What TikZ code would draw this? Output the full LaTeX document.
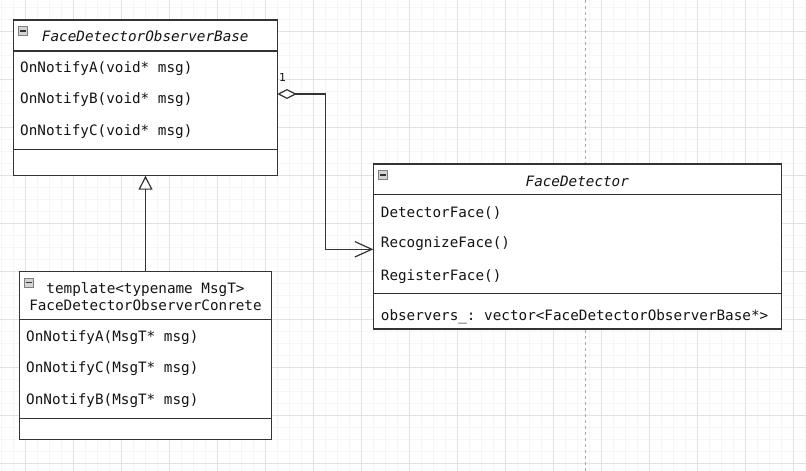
\documentclass[tikz,border=0pt]{standalone}
\usepackage{fontspec}
\usetikzlibrary{arrows.meta,calc}
\newfontfamily\umlmono{DejaVu Sans Mono}
\newfontfamily\umlsans{DejaVu Sans}
\frenchspacing
\definecolor{gridminor}{HTML}{F6F6F6}
\definecolor{gridmajor}{HTML}{E2E2E2}
\definecolor{pagebreak}{HTML}{A8A8A8}
\definecolor{umlline}{HTML}{333333}
\definecolor{umltext}{HTML}{141414}
\definecolor{iconframe}{HTML}{7F7F7F}
\definecolor{iconfill}{HTML}{D4D4D4}

\tikzset{
  classbox/.style={draw=umlline, fill=white, line width=1.2pt, rectangle,
    inner sep=0pt, outer sep=0pt, anchor=north west},
  sepline/.style={draw=umlline, line width=1.2pt},
  member/.style={anchor=base west, inner sep=0pt, text=umltext,
    font=\umlmono\fontsize{14.3}{17}\selectfont},
  classname/.style={anchor=base, inner sep=0pt, text=umltext,
    font=\umlmono\fontsize{14.3}{17}\selectfont},
  abstractname/.style={classname, font=\umlmono\itshape\fontsize{14.3}{17}\selectfont},
  connector/.style={draw=umlline, line width=1.2pt},
  multiplicity/.style={inner sep=0pt, text=umltext, font=\umlsans\fontsize{11}{13}\selectfont},
}

% collapse toggle drawn in the top left corner of a class box
\newcommand{\collapseicon}[1]{%
  \fill[iconfill, draw=iconframe, line width=0.8pt]
    ($(#1.north west)+(5,6.5)$) rectangle ++(9,9);
  \draw[umlline, line width=1.4pt]
    ($(#1.north west)+(6.8,11)$) -- ++(5.4,0);
}

\begin{document}
\begin{tikzpicture}[x=1pt,y=-1pt]
\useasboundingbox (0,0) rectangle (806,471);
\fill[white] (0,0) rectangle (806,471);

% background grid
\foreach \i in {0,...,67} {
  \draw[gridminor, line width=0.8pt] ({1.3+12*\i},0) -- ({1.3+12*\i},471);
}
\foreach \j in {0,...,39} {
  \draw[gridminor, line width=0.8pt] (0,{7.3+12*\j}) -- (806,{7.3+12*\j});
}
\foreach \i in {0,...,16} {
  \draw[gridmajor, line width=1pt] ({25.3+48*\i},0) -- ({25.3+48*\i},471);
}
\foreach \j in {0,...,9} {
  \draw[gridmajor, line width=1pt] (0,{31.3+48*\j}) -- (806,{31.3+48*\j});
}
\draw[pagebreak, line width=0.9pt, dash pattern=on 3pt off 3pt] (585.5,0) -- (585.5,471);

% FaceDetectorObserverBase
\node[classbox, minimum width=264pt, minimum height=155.7pt] (base) at (13.3,20) {};
\draw[sepline] ($(base.north west)+(0,31)$) -- ($(base.north east)+(0,31)$);
\draw[sepline] ($(base.north west)+(0,129.3)$) -- ($(base.north east)+(0,129.3)$);
\collapseicon{base}
\node[abstractname] (baseName) at (145.3,41.3) {FaceDetectorObserverBase};
\node[member] (baseA) at (20,72.7) {OnNotifyA(void* msg)};
\node[member] (baseB) at (20,103.9) {OnNotifyB(void* msg)};
\node[member] (baseC) at (20,135.1) {OnNotifyC(void* msg)};

% FaceDetectorObserverConrete
\node[classbox, minimum width=252.4pt, minimum height=167.6pt] (sub) at (19.3,271.7) {};
\draw[sepline] ($(sub.north west)+(0,48)$) -- ($(sub.north east)+(0,48)$);
\draw[sepline] ($(sub.north west)+(0,146.6)$) -- ($(sub.north east)+(0,146.6)$);
\collapseicon{sub}
\node[classname] (subTpl) at (145.5,293.3) {template<typename MsgT>};
\node[classname] (subName) at (145.5,310.6) {FaceDetectorObserverConrete};
\node[member] (subA) at (26,341.3) {OnNotifyA(MsgT* msg)};
\node[member] (subC) at (26,372.8) {OnNotifyC(MsgT* msg)};
\node[member] (subB) at (26,404.2) {OnNotifyB(MsgT* msg)};

% FaceDetector
\node[classbox, minimum width=408pt, minimum height=165pt] (det) at (373.3,164) {};
\draw[sepline] ($(det.north west)+(0,30.7)$) -- ($(det.north east)+(0,30.7)$);
\draw[sepline] ($(det.north west)+(0,129.7)$) -- ($(det.north east)+(0,129.7)$);
\collapseicon{det}
\node[abstractname] (detName) at (577.3,186) {FaceDetector};
\node[member] (detA) at (380.7,217) {DetectorFace()};
\node[member] (detB) at (380.7,247.7) {RecognizeFace()};
\node[member] (detC) at (380.7,280.3) {RegisterFace()};
\node[member] (detObs) at (380.7,320) {observers{\char"5F}: vector<FaceDetectorObserverBase*>};

% generalization
\draw[connector, -{Triangle[open, length=14pt, width=14pt]}]
  (sub.north) -- (sub.north |- base.south);

% aggregation
\coordinate (aggFrom) at ($(base.north east)+(0,74)$);
\coordinate (aggTo) at ($(det.north west)+(0,85.3)$);
\draw[connector, {Diamond[open, length=19.4pt, width=10pt]}-{Straight Barb[length=17pt, width=15.4pt]}]
  (aggFrom) -- ++(48.4,0) |- (aggTo);
\node[multiplicity] (aggMult) at (282.6,77.5) {1};
\end{tikzpicture}
\end{document}
